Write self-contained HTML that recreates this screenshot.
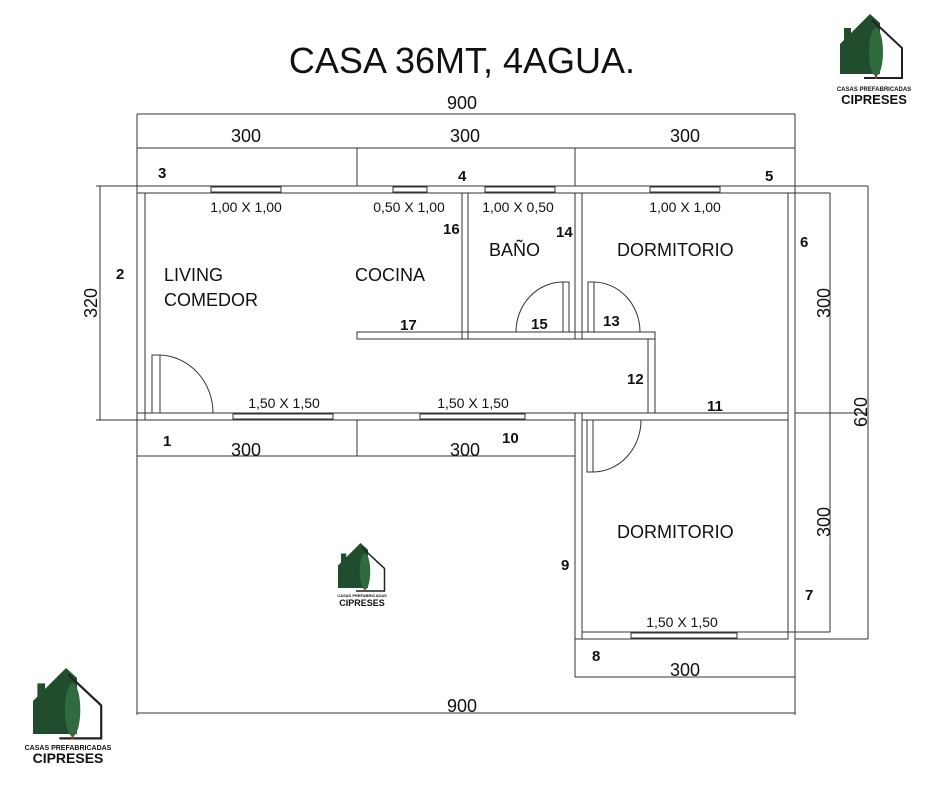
<!DOCTYPE html>
<html><head><meta charset="utf-8"><style>
html,body{margin:0;padding:0;background:#fff;width:940px;height:788px;overflow:hidden}
svg{display:block}
text{font-family:"Liberation Sans",sans-serif;fill:#111}
.n{font-weight:bold;font-size:15px}
.r{font-size:18px}
.w{font-size:14px}
.d{font-size:18px}
</style></head><body>
<svg width="940" height="788" viewBox="0 0 940 788" xmlns="http://www.w3.org/2000/svg">
<defs>
<g id="logo">
 <polygon points="0,30 30,0 40,9 40,60 0,60" fill="#1f4d2e"/>
 <rect x="4" y="14" width="7" height="14" fill="#1f4d2e"/>
 <polyline points="32,6 62,34 62,64 24,64" fill="none" stroke="#222" stroke-width="2"/>
 <ellipse cx="36" cy="38" rx="7" ry="24" fill="#2f6b3f"/>
 <rect x="35" y="60" width="2" height="5" fill="#6b4a2a"/>
</g>
</defs>
<text x="462" y="73" text-anchor="middle" style="font-size:36px">CASA 36MT, 4AGUA.</text>
<g fill="none" stroke="#333" stroke-width="1">
 <line x1="137" y1="114" x2="795" y2="114"/>
 <line x1="137" y1="148" x2="795" y2="148"/>
 <line x1="137" y1="114" x2="137" y2="715"/>
 <line x1="795" y1="114" x2="795" y2="715"/>
 <line x1="357" y1="148" x2="357" y2="186"/>
 <line x1="575" y1="148" x2="575" y2="186"/>
 <line x1="137" y1="456" x2="575" y2="456"/>
 <line x1="357" y1="420" x2="357" y2="456"/>
 <line x1="575" y1="632" x2="575" y2="677"/>
 <line x1="575" y1="677" x2="795" y2="677"/>
 <line x1="137" y1="713" x2="795" y2="713"/>
 <line x1="100" y1="186" x2="100" y2="420"/>
 <line x1="96" y1="186" x2="137" y2="186"/>
 <line x1="96" y1="420" x2="137" y2="420"/>
 <line x1="830" y1="193" x2="830" y2="632"/>
 <line x1="868" y1="186" x2="868" y2="639"/>
 <line x1="795" y1="186" x2="868" y2="186"/>
 <line x1="795" y1="193" x2="830" y2="193"/>
 <line x1="795" y1="413" x2="868" y2="413"/>
 <line x1="795" y1="632" x2="830" y2="632"/>
 <line x1="795" y1="639" x2="868" y2="639"/>
 <rect x="137" y="186" width="658" height="7"/>
 <rect x="137" y="193" width="8" height="227"/>
 <rect x="788" y="193" width="7" height="439"/>
 <rect x="137" y="413" width="438" height="7"/>
 <rect x="575" y="413" width="7" height="226"/>
 <rect x="582" y="632" width="206" height="7"/>
 <rect x="582" y="413" width="206" height="7"/>
 <rect x="357" y="332" width="298" height="7"/>
 <rect x="648" y="339" width="7" height="74"/>
 <rect x="462" y="193" width="6" height="146"/>
 <rect x="575" y="193" width="7" height="146"/>
 <rect x="152" y="355" width="8" height="58"/>
 <path d="M160,355 A55,58 0 0 1 213,413"/>
 <rect x="563" y="282" width="6" height="50"/>
 <path d="M563,282 A47,50 0 0 0 516,332"/>
 <rect x="588" y="282" width="6" height="50"/>
 <path d="M594,282 A47,50 0 0 1 640,332"/>
 <rect x="587" y="420" width="6" height="52"/>
 <path d="M593,472 A48,52 0 0 0 641,420"/>
 <rect x="211" y="187" width="70" height="5"/>
 <rect x="393" y="187" width="34" height="5"/>
 <rect x="485" y="187" width="70" height="5"/>
 <rect x="650" y="187" width="70" height="5"/>
 <rect x="233" y="414" width="100" height="5"/>
 <rect x="420" y="414" width="105" height="5"/>
 <rect x="631" y="633" width="106" height="5"/>
</g>
<text class="d" x="246" y="142" text-anchor="middle">300</text>
<text class="d" x="465" y="142" text-anchor="middle">300</text>
<text class="d" x="685" y="142" text-anchor="middle">300</text>
<text class="d" x="462" y="109" text-anchor="middle">900</text>
<text class="d" x="246" y="456" text-anchor="middle">300</text>
<text class="d" x="465" y="456" text-anchor="middle">300</text>
<text class="d" x="685" y="676" text-anchor="middle">300</text>
<text class="d" x="462" y="712" text-anchor="middle">900</text>
<text class="d" transform="translate(97,303) rotate(-90)" text-anchor="middle">320</text>
<text class="d" transform="translate(830,303) rotate(-90)" text-anchor="middle">300</text>
<text class="d" transform="translate(830,522) rotate(-90)" text-anchor="middle">300</text>
<text class="d" transform="translate(867,412) rotate(-90)" text-anchor="middle">620</text>
<text class="w" x="246" y="212" text-anchor="middle">1,00 X 1,00</text>
<text class="w" x="409" y="212" text-anchor="middle">0,50 X 1,00</text>
<text class="w" x="518" y="212" text-anchor="middle">1,00 X 0,50</text>
<text class="w" x="685" y="212" text-anchor="middle">1,00 X 1,00</text>
<text class="w" x="284" y="408" text-anchor="middle">1,50 X 1,50</text>
<text class="w" x="473" y="408" text-anchor="middle">1,50 X 1,50</text>
<text class="w" x="682" y="627" text-anchor="middle">1,50 X 1,50</text>
<text class="r" x="164" y="281">LIVING</text>
<text class="r" x="164" y="306">COMEDOR</text>
<text class="r" x="355" y="281">COCINA</text>
<text class="r" x="489" y="256">BAÑO</text>
<text class="r" x="617" y="256">DORMITORIO</text>
<text class="r" x="617" y="538">DORMITORIO</text>
<text class="n" x="163" y="446">1</text>
<text class="n" x="116" y="279">2</text>
<text class="n" x="158" y="178">3</text>
<text class="n" x="458" y="181">4</text>
<text class="n" x="765" y="181">5</text>
<text class="n" x="800" y="247">6</text>
<text class="n" x="805" y="600">7</text>
<text class="n" x="592" y="661">8</text>
<text class="n" x="561" y="570">9</text>
<text class="n" x="502" y="443">10</text>
<text class="n" x="707" y="411">11</text>
<text class="n" x="627" y="384">12</text>
<text class="n" x="603" y="326">13</text>
<text class="n" x="556" y="237">14</text>
<text class="n" x="531" y="329">15</text>
<text class="n" x="443" y="234">16</text>
<text class="n" x="400" y="330">17</text>
<g transform="translate(840,14)"><use href="#logo"/></g>
<text x="874" y="91" text-anchor="middle" style="font-size:6px;font-weight:bold">CASAS PREFABRICADAS</text>
<text x="874" y="104" text-anchor="middle" style="font-size:13px;font-weight:bold">CIPRESES</text>
<g transform="translate(338,543) scale(0.75)"><use href="#logo"/></g>
<text x="362" y="597" text-anchor="middle" style="font-size:4px;font-weight:bold">CASAS PREFABRICADAS</text>
<text x="362" y="606" text-anchor="middle" style="font-size:9px;font-weight:bold">CIPRESES</text>
<g transform="translate(33,668) scale(1.1)"><use href="#logo"/></g>
<text x="68" y="750" text-anchor="middle" style="font-size:7px;font-weight:bold">CASAS PREFABRICADAS</text>
<text x="68" y="763" text-anchor="middle" style="font-size:14px;font-weight:bold">CIPRESES</text>
</svg>
</body></html>
